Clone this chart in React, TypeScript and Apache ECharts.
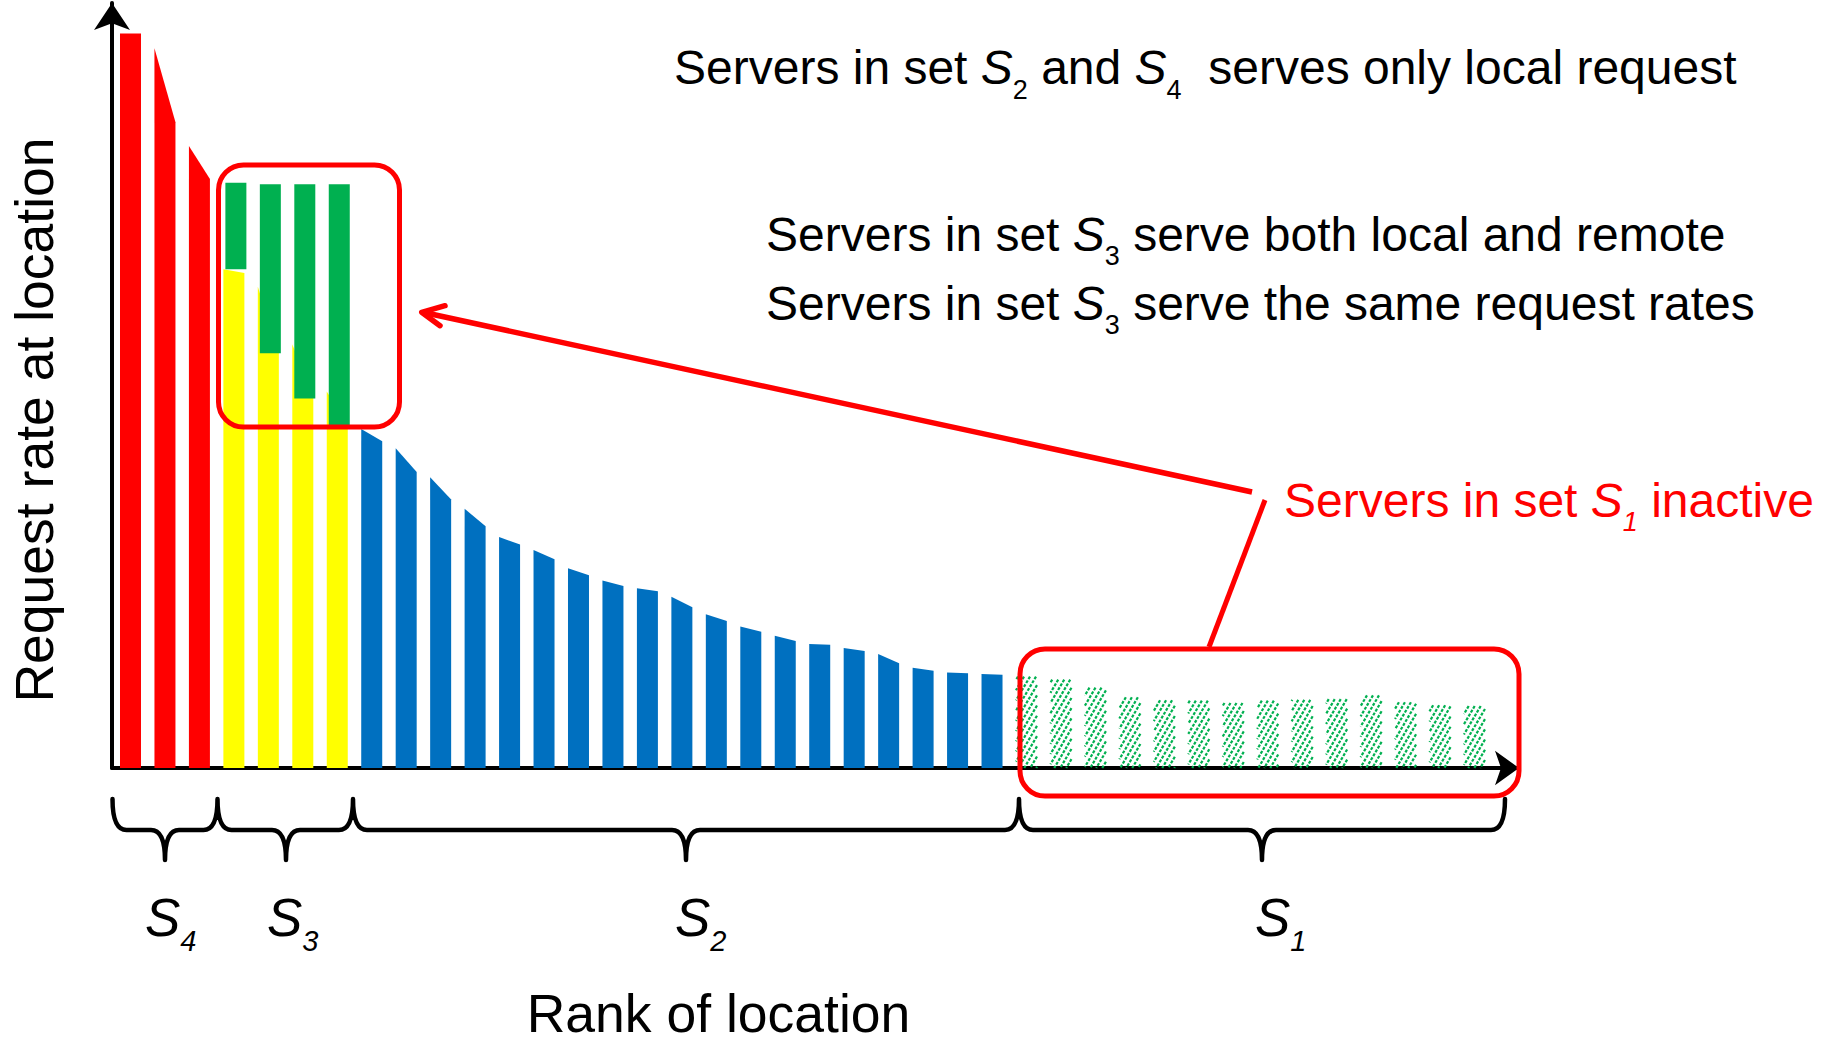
import React, { useEffect, useRef } from "react";
import * as echarts from "echarts";

// ---- Data (request rate, arbitrary units; left/right edge of each bar's top) ----
const s4Ranks = [1, 2, 3];
const s4Left = [96.0, 94.1, 81.3];
const s4Right = [96.0, 84.4, 77.0];

const s3Ranks = [4, 5, 6, 7];
const s3LocalLeft = [65.2, 62.9, 55.4, 49.2];
const s3LocalRight = [64.7, 54.2, 48.3, 44.8];
const s3RemoteBottom = [65.2, 54.2, 48.3, 44.8];
const s3RemoteTop = [76.5, 76.3, 76.3, 76.3];

const s2Ranks = [8, 9, 10, 11, 12, 13, 14, 15, 16, 17, 18, 19, 20, 21, 22, 23, 24, 25, 26];
const s2Left = [44.3, 41.8, 38.0, 33.9, 30.2, 28.5, 26.1, 24.5, 23.5, 22.4, 20.1, 18.5, 17.3, 16.2, 15.7, 14.9, 13.1, 12.5, 12.3];
const s2Right = [42.7, 38.7, 35.1, 31.6, 29.2, 27.3, 25.2, 23.8, 23.1, 21.0, 19.2, 17.8, 16.6, 16.1, 15.3, 13.7, 12.7, 12.4, 12.2];

const s1Ranks = [27, 28, 29, 30, 31, 32, 33, 34, 35, 36, 37, 38, 39, 40];
const s1Left = [12.0, 11.9, 10.8, 9.5, 8.9, 8.8, 8.5, 8.8, 8.9, 9.0, 9.5, 8.6, 8.2, 8.1];
const s1Right = [11.9, 11.2, 10.2, 9.0, 8.8, 8.8, 8.5, 8.8, 8.9, 9.0, 9.5, 8.6, 8.2, 8.1];

const FONT = "'Liberation Sans', Arial, sans-serif";
const RED = "#FF0000";
const YELLOW = "#FFFF00";
const GREEN = "#00B050";
const BLUE = "#0070C0";

const BRACE_PATH = (() => {
  const B = [112.5, 217.5, 353, 1019, 1505];
  const T = [165, 286, 686, 1262];
  const y0 = 799, y1 = 830, y2 = 860;
  let d = "";
  for (let i = 0; i < T.length; i++) {
    const a = B[i], b = B[i + 1], m = T[i];
    d += `M${a} ${y0} Q${a} ${y1} ${a + 14} ${y1} L${m - 14} ${y1} Q${m} ${y1} ${m} ${y2} `;
    d += `M${m} ${y2} Q${m} ${y1} ${m + 14} ${y1} L${b - 14} ${y1} Q${b} ${y1} ${b} ${y0} `;
  }
  return d;
})();

let registered = false;
function ensureShapes() {
  if (registered) return;
  echarts.graphic.registerShape("braces", echarts.graphic.extendPath(BRACE_PATH, {}));
  registered = true;
}

const HW = 10.5;

function solidBars(color: string) {
  return (params: any, api: any) => {
    const r = api.value(0);
    const pL = api.coord([r, api.value(1)]);
    const pR = api.coord([r, api.value(2)]);
    const pB = api.coord([r, 0]);
    return {
      type: "polygon",
      shape: {
        points: [
          [pB[0] - HW, pB[1]],
          [pB[0] - HW, pL[1]],
          [pB[0] + HW, pR[1]],
          [pB[0] + HW, pB[1]],
        ],
      },
      style: { fill: color },
    };
  };
}

function rangeBars(color: string, dx: number) {
  return (params: any, api: any) => {
    const r = api.value(0);
    const pBot = api.coord([r, api.value(1)]);
    const pTop = api.coord([r, api.value(2)]);
    return {
      type: "rect",
      shape: { x: pTop[0] - HW + dx, y: pTop[1], width: HW * 2, height: pBot[1] - pTop[1] },
      style: { fill: color },
    };
  };
}

function hatchBars(params: any, api: any) {
  const r = api.value(0);
  const top = (api.value(1) + api.value(2)) / 2;
  const pTop = api.coord([r, top]);
  const pBase = api.coord([r, 0]);
  const x0 = pTop[0] - HW, x1 = pTop[0] + HW, yt = pTop[1], yb = pBase[1];
  const k = 1.7, step = 6;
  const children: any[] = [];
  const cStart = Math.floor((x0 + yt / k) / step) * step;
  for (let c = cStart; c <= x1 + yb / k; c += step) {
    const ya = Math.max(yt, k * (c - x1));
    const yz = Math.min(yb, k * (c - x0));
    if (yz - ya < 1) continue;
    children.push({
      type: "line",
      shape: { x1: c - ya / k, y1: ya, x2: c - yz / k, y2: yz },
      style: { stroke: GREEN, lineWidth: 2.2, lineDash: [3, 1.5] },
    });
  }
  return { type: "group", children };
}

function richTop(color: string) {
  return {
    n: { fontSize: 48, fontFamily: FONT, lineHeight: 56, verticalAlign: "top", fill: color },
    s: { fontSize: 48, fontFamily: FONT, fontStyle: "italic", lineHeight: 56, verticalAlign: "top", fill: color },
    sub: { fontSize: 27, fontFamily: FONT, lineHeight: 26, padding: [32.5, 0, 0, 0], verticalAlign: "top", fill: color },
    subi: { fontSize: 27, fontFamily: FONT, fontStyle: "italic", lineHeight: 26, padding: [32.5, 0, 0, 0], verticalAlign: "top", fill: color },
  };
}

const richBottom = {
  s: { fontSize: 53, fontFamily: FONT, fontStyle: "italic", lineHeight: 60, verticalAlign: "top", fill: "#000" },
  sub: { fontSize: 29, fontFamily: FONT, fontStyle: "italic", lineHeight: 28, padding: [35.4, 0, 0, 0], verticalAlign: "top", fill: "#000" },
};

export default function App() {
  const ref = useRef<HTMLDivElement>(null);
  useEffect(() => {
    if (!ref.current) return;
    ensureShapes();
    const chart = echarts.init(ref.current, null, { renderer: "svg" });
    const option: any = {
      animation: false,
      backgroundColor: "#ffffff",
      grid: { left: 112, top: 3, width: 1407, height: 765 },
      xAxis: {
        type: "value",
        min: 0.4632,
        max: 41.292,
        axisLine: {
          show: true,
          onZero: false,
          symbol: ["none", "arrow"],
          symbolSize: [26, 24],
          lineStyle: { color: "#000", width: 4 },
        },
        axisTick: { show: false },
        axisLabel: { show: false },
        splitLine: { show: false },
      },
      yAxis: {
        type: "value",
        min: 0,
        max: 100,
        axisLine: {
          show: true,
          onZero: false,
          symbol: ["none", "arrow"],
          symbolSize: [27, 27],
          lineStyle: { color: "#000", width: 4 },
        },
        axisTick: { show: false },
        axisLabel: { show: false },
        splitLine: { show: false },
      },
      series: [
        {
          name: "S4",
          type: "custom",
          renderItem: solidBars(RED),
          data: s4Ranks.map((r, i) => [r, s4Left[i], s4Right[i]]),
        },
        {
          name: "S3 local",
          type: "custom",
          renderItem: solidBars(YELLOW),
          data: s3Ranks.map((r, i) => [r, s3LocalLeft[i], s3LocalRight[i]]),
        },
        {
          name: "S3 remote",
          type: "custom",
          renderItem: rangeBars(GREEN, 2),
          data: s3Ranks.map((r, i) => [r, s3RemoteBottom[i], s3RemoteTop[i]]),
        },
        {
          name: "S2",
          type: "custom",
          renderItem: solidBars(BLUE),
          data: s2Ranks.map((r, i) => [r, s2Left[i], s2Right[i]]),
        },
        {
          name: "S1",
          type: "custom",
          renderItem: hatchBars,
          data: s1Ranks.map((r, i) => [r, s1Left[i], s1Right[i]]),
        },
      ],
      graphic: [
        {
          type: "braces",
          x: 0,
          y: 0,
          z: 50,
          style: { fill: "none", stroke: "#000", lineWidth: 4.5, lineCap: "round", lineJoin: "round" },
        },
        {
          type: "rect",
          z: 60,
          shape: { x: 218.5, y: 165, width: 181, height: 262, r: 25 },
          style: { fill: "none", stroke: RED, lineWidth: 5 },
        },
        {
          type: "rect",
          z: 60,
          shape: { x: 1020, y: 649, width: 499, height: 147, r: 25 },
          style: { fill: "none", stroke: RED, lineWidth: 5 },
        },
        {
          type: "line",
          z: 60,
          shape: { x1: 1252, y1: 492, x2: 424, y2: 312.5 },
          style: { stroke: RED, lineWidth: 5.5, lineCap: "butt" },
        },
        {
          type: "polyline",
          z: 60,
          shape: { points: [[445, 305.7], [421.7, 312.3], [440, 325.7]] },
          style: { stroke: RED, lineWidth: 5.5, lineCap: "round", lineJoin: "round", fill: "none" },
        },
        {
          type: "line",
          z: 60,
          shape: { x1: 1265, y1: 500, x2: 1209, y2: 647 },
          style: { stroke: RED, lineWidth: 5, lineCap: "butt" },
        },
        {
          type: "text",
          z: 70,
          style: {
            x: 674,
            y: 43.5,
            text: "{n|Servers in set }{s|S}{sub|2}{n| and }{s|S}{sub|4}{n|  serves only local request}",
            rich: richTop("#000"),
            verticalAlign: "top",
            align: "left",
          },
        },
        {
          type: "text",
          z: 70,
          style: {
            x: 766,
            y: 210,
            text: "{n|Servers in set }{s|S}{sub|3}{n| serve both local and remote}",
            rich: richTop("#000"),
            verticalAlign: "top",
            align: "left",
          },
        },
        {
          type: "text",
          z: 70,
          style: {
            x: 766,
            y: 279,
            text: "{n|Servers in set }{s|S}{sub|3}{n| serve the same request rates}",
            rich: richTop("#000"),
            verticalAlign: "top",
            align: "left",
          },
        },
        {
          type: "text",
          z: 70,
          style: {
            x: 1284,
            y: 476,
            text: "{n|Servers in set }{s|S}{subi|1}{n| inactive}",
            rich: richTop(RED),
            verticalAlign: "top",
            align: "left",
          },
        },
        {
          type: "text",
          z: 70,
          style: { x: 145, y: 891, text: "{s|S}{sub|4}", rich: richBottom, verticalAlign: "top", align: "left" },
        },
        {
          type: "text",
          z: 70,
          style: { x: 267, y: 891, text: "{s|S}{sub|3}", rich: richBottom, verticalAlign: "top", align: "left" },
        },
        {
          type: "text",
          z: 70,
          style: { x: 675, y: 891, text: "{s|S}{sub|2}", rich: richBottom, verticalAlign: "top", align: "left" },
        },
        {
          type: "text",
          z: 70,
          style: { x: 1255, y: 891, text: "{s|S}{sub|1}", rich: richBottom, verticalAlign: "top", align: "left" },
        },
        {
          type: "text",
          z: 70,
          style: {
            x: 718.5,
            y: 1013,
            text: "Rank of location",
            fontSize: 53.5,
            lineHeight: 48,
            fontFamily: FONT,
            fill: "#000",
            align: "center",
            verticalAlign: "middle",
          },
        },
        {
          type: "text",
          z: 70,
          x: 34,
          y: 420,
          rotation: Math.PI / 2,
          style: {
            x: 0,
            y: 0,
            text: "Request rate at location",
            fontSize: 53.5,
            fontFamily: FONT,
            fill: "#000",
            align: "center",
            verticalAlign: "middle",
          },
        },
      ],
    };
    chart.setOption(option);
    return () => {
      chart.dispose();
    };
  }, []);
  return (
    <div
      ref={ref}
      style={{ position: "absolute", left: 0, top: 0, width: 1833, height: 1045, background: "#fff" }}
    />
  );
}
